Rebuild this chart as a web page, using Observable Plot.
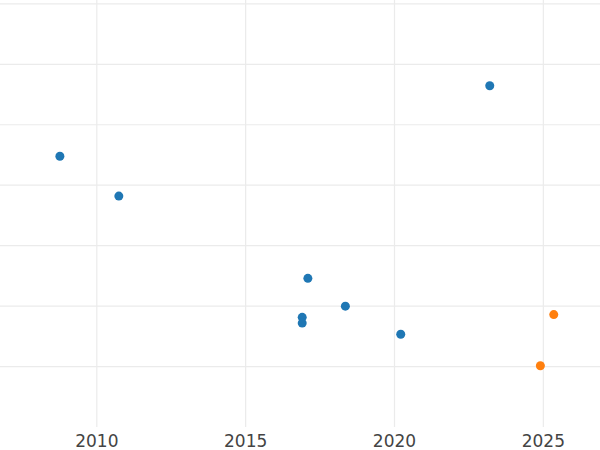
<!DOCTYPE html>
<html>
<head>
<meta charset="utf-8">
<script src="https://cdn.jsdelivr.net/npm/d3@7"></script>
<script src="https://cdn.jsdelivr.net/npm/@observablehq/plot@0.6"></script>
<style>
  html, body { margin: 0; padding: 0; background: #fff; }
  #chart { width: 600px; height: 450px; }
</style>
</head>
<body>
<div id="chart"></div>
<script>
// Data (y axis unlabeled; arbitrary units, grid every 10)
const years  = [2008.76, 2010.74, 2017.09, 2016.90, 2016.90, 2018.35, 2020.21, 2023.20, 2025.35, 2024.90];
const values = [34.8,    28.2,    14.6,    8.15,    7.2,     10.0,    5.35,    46.45,   8.6,     0.15];
const groups = ["A",     "A",     "A",     "A",     "A",     "A",     "A",     "A",     "B",     "B"];
const groupNames = ["A", "B"];
const groupColors = ["#1f77b4", "#ff7f0e"];
const xTicks = [2010, 2015, 2020, 2025];
const yGrid = [0, 10, 20, 30, 40, 50, 60];

const data = years.map((x, i) => ({x, y: values[i], g: groups[i]}));

const chart = Plot.plot({
  width: 600,
  height: 450,
  marginLeft: 0,
  marginRight: 0,
  marginTop: 0,
  marginBottom: 23,
  style: {fontFamily: "DejaVu Sans", fontSize: "17px", background: "#fff"},
  x: {domain: [2006.765, 2026.92], label: null},
  y: {domain: [-10.07, 60.55], label: null, axis: null},
  color: {domain: groupNames, range: groupColors},
  marks: [
    Plot.ruleY(yGrid, {stroke: "#ebebeb", strokeWidth: 1.2}),
    Plot.ruleX(xTicks, {stroke: "#ebebeb", strokeWidth: 1.2}),
    Plot.dot(data, {x: "x", y: "y", fill: "g", r: 4.5, stroke: null}),
    Plot.axisX(xTicks, {tickSize: 0, tickPadding: 7, tickFormat: d => String(d), fill: "#444", fontSize: 17, label: null}),
  ]
});
document.getElementById("chart").appendChild(chart);
</script>
</body>
</html>
